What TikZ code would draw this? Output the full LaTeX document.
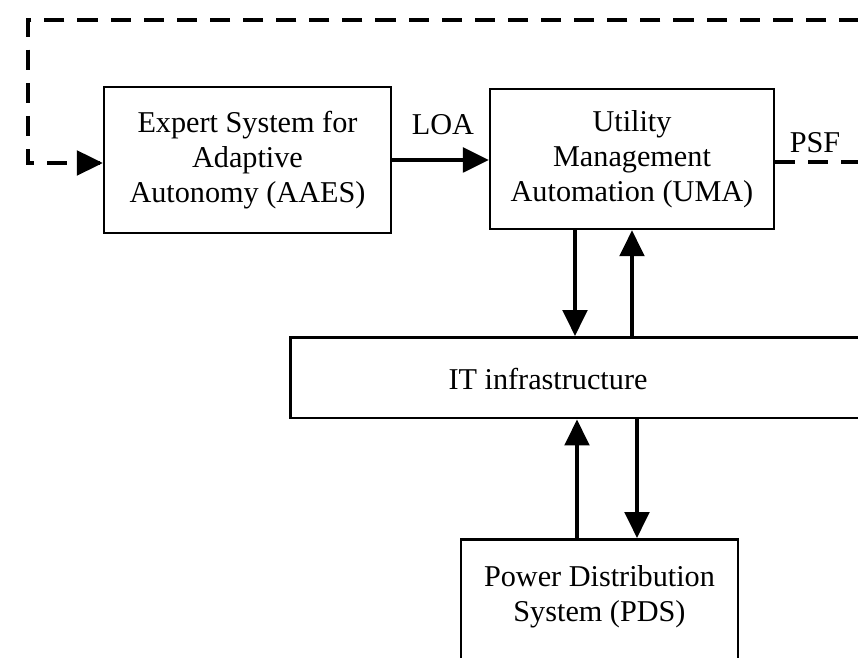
\documentclass[tikz,border=0pt]{standalone}
\usepackage{fontspec}
\setmainfont{Liberation Serif}
\usetikzlibrary{positioning,arrows.meta}
\tikzset{
  box/.style={draw, line width=0.9pt, align=center, inner sep=0pt},
  arr/.style={line width=1.3pt, -{Triangle[length=9pt,width=8.5pt]}},
  fb/.style={line width=1.7pt, dash pattern=on 7pt off 4.5pt}
}

\begin{document}
\begin{tikzpicture}[x=0.0122cm, y=-0.0122cm, font=\fontsize{10.5}{12.2}\selectfont]
    \useasboundingbox (0,0) rectangle (858,658);
    \clip (0,0) rectangle (858,658);
    % boxes
    \node[box, minimum width=99.6pt, minimum height=50.7pt] (aaes) at (247.5,160)
      {Expert System for\\Adaptive\\Autonomy (AAES)};
    \node[box, minimum width=98.5pt, minimum height=48.6pt] (uma) at (632,159)
      {Utility\\Management\\Automation (UMA)};
    \node[box, minimum width=250pt, minimum height=28.1pt, anchor=north west] (it) at (289,336) {};
    \node (ittext) at (548,379) {IT infrastructure};
    \node[box, minimum width=96.1pt, minimum height=60pt, anchor=north] (pds) at (599.5,538) {};
    \node[align=center] (pdstext) at (599.5,597) {Power Distribution\\System (PDS)};
    % labels
    \node (loa) at (443,125) {LOA};
    \node (psf) at (815,143) {PSF};
    % connectors
    \draw[arr] (aaes.east) -- (aaes.east -| uma.west);
    \draw[arr] (uma.south -| 575,0) -- (it.north -| 575,0);
    \draw[arr] (it.north -| 632,0) -- (uma.south -| 632,0);
    \draw[arr] (pds.north -| 577,0) -- (it.south -| 577,0);
    \draw[arr] (it.south -| 637,0) -- (pds.north -| 637,0);
    % feedback loop
    \coordinate (fbr) at (862,20);
    \coordinate (fbl) at (28,20);
    \draw[fb] (uma.east |- 0,162) -| (fbr) -- (fbl) |- (aaes.west |- 0,163);
    \draw[arr] (80,163) -- (aaes.west |- 0,163);
\end{tikzpicture}
\end{document}
